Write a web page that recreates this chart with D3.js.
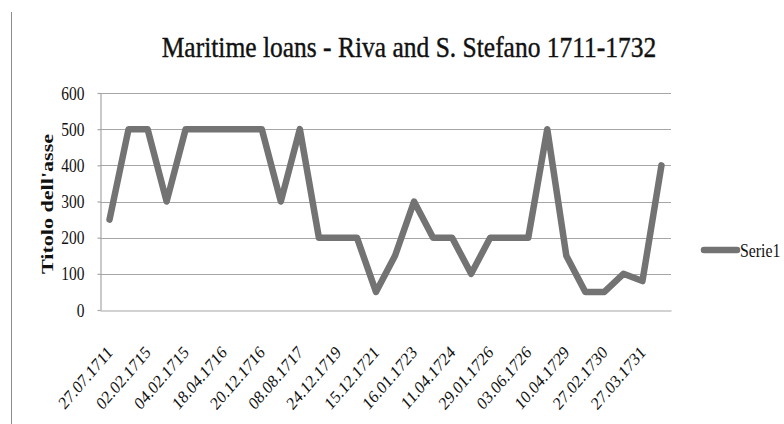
<!DOCTYPE html>
<html>
<head>
<meta charset="utf-8">
<script src="https://cdn.jsdelivr.net/npm/d3@7"></script>
<style>
  html, body { margin: 0; padding: 0; background: #fff; }
  svg { display: block; }
  svg text { font-family: "Liberation Serif", "DejaVu Serif", serif; fill: #111; }
</style>
</head>
<body>
<svg id="chart" width="784" height="424"></svg>
<script>
// Loan amounts, one entry per contract, in chronological order
const loanValues = [250, 500, 500, 300, 500, 500, 500, 500, 500, 300,
                    500, 200, 200, 200, 50, 150, 300, 200, 200, 100,
                    200, 200, 200, 500, 150, 50, 50, 100, 80, 400];
// Category positions along the x axis (one per loan)
const categories = loanValues.map((_, i) => i);
// Date labels shown on every other category, starting from the first
const tickLabels = ["27.07.1711", "02.02.1715", "04.02.1715", "18.04.1716", "20.12.1716",
                    "08.08.1717", "24.12.1719", "15.12.1721", "16.01.1723", "11.04.1724",
                    "29.01.1726", "03.06.1726", "10.04.1729", "27.02.1730", "27.03.1731"];
const yTicks = [0, 100, 200, 300, 400, 500, 600];
const seriesName = "Serie1";
const chartTitle = "Maritime loans - Riva and S. Stefano 1711-1732";
const axisTitle = "Titolo dell'asse";

const svg = d3.select("#chart");
const plot = { left: 100, right: 671, top: 93, bottom: 310 };

const x = d3.scaleBand().domain(categories).range([plot.left, plot.right]);
const y = d3.scaleLinear().domain([0, 600]).range([plot.bottom, plot.top]);

// outer frame edge on the left
svg.append("line")
  .attr("x1", 11.5).attr("x2", 11.5).attr("y1", 12).attr("y2", 424)
  .attr("stroke", "#8c8c8c").attr("stroke-width", 1);

// title
svg.append("text")
  .attr("transform", "translate(409,57) scale(0.85,1)")
  .attr("text-anchor", "middle")
  .style("font-size", "30px")
  .attr("stroke", "#111").attr("stroke-width", 0.4)
  .text(chartTitle);

// horizontal gridlines
svg.append("g")
  .selectAll("line")
  .data(yTicks.filter(d => d > 0))
  .join("line")
  .attr("x1", plot.left).attr("x2", plot.right)
  .attr("y1", d => Math.round(y(d)) + 0.5).attr("y2", d => Math.round(y(d)) + 0.5)
  .attr("stroke", "#a6a6a6").attr("stroke-width", 1.2);

// y axis
const yAxis = svg.append("g")
  .attr("transform", `translate(${plot.left + 0.5},0)`)
  .call(d3.axisLeft(y).tickValues(yTicks).tickSize(3).tickSizeOuter(0));
yAxis.select(".domain").attr("stroke", "#a6a6a6").attr("stroke-width", 1.2);
yAxis.selectAll(".tick line").attr("stroke", "#a6a6a6").attr("stroke-width", 1.2);
yAxis.selectAll("text")
  .attr("x", 0)
  .attr("dy", "0.34em")
  .attr("transform", "translate(-16,0) scale(0.86,1)")
  .style("font-size", "18px");

// x axis baseline with rotated date labels
const labelFor = d => (d % 2 === 0 ? tickLabels[d / 2] : "");
const xAxis = svg.append("g")
  .attr("transform", `translate(0,${Math.round(plot.bottom) + 0.5})`)
  .call(d3.axisBottom(x).tickFormat(labelFor).tickSize(0));
xAxis.select(".domain").attr("stroke", "#a6a6a6").attr("stroke-width", 1.2);
xAxis.selectAll("text")
  .style("font-size", "18px")
  .attr("text-anchor", "end")
  .attr("dy", null).attr("y", 0)
  .attr("transform", "translate(4,43) scale(0.86,1) rotate(-45)");

// y axis title
svg.append("text")
  .attr("transform", "translate(53,204) rotate(-90) scale(1.3,1)")
  .attr("text-anchor", "middle")
  .style("font-size", "17px").style("font-weight", "bold")
  .text(axisTitle);

// series line
const line = d3.line()
  .x((d, i) => x(categories[i]) + x.bandwidth() / 2)
  .y(d => y(d));
svg.append("path")
  .datum(loanValues)
  .attr("d", line)
  .attr("fill", "none")
  .attr("stroke", "#737373")
  .attr("stroke-width", 6.5)
  .attr("stroke-linejoin", "round")
  .attr("stroke-linecap", "round");

// legend
const legend = svg.append("g").attr("transform", "translate(704,250)");
legend.append("line")
  .attr("x1", 0).attr("x2", 33).attr("y1", 0).attr("y2", 0)
  .attr("stroke", "#737373").attr("stroke-width", 6.5).attr("stroke-linecap", "round");
legend.append("text")
  .attr("transform", "translate(36,7) scale(0.88,1)")
  .style("font-size", "18px")
  .text(seriesName);
</script>
</body>
</html>
